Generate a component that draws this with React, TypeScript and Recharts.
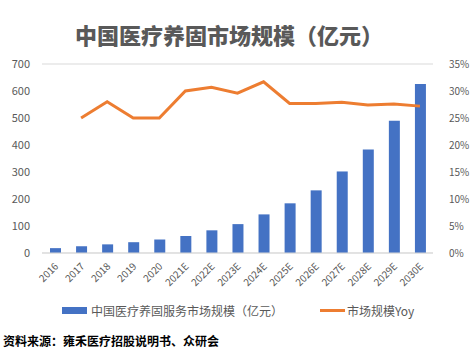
import React from 'react';
import { ComposedChart, Bar, Line, XAxis, YAxis, CartesianGrid } from 'recharts';

const years = ['2016', '2017', '2018', '2019', '2020', '2021E', '2022E', '2023E', '2024E', '2025E', '2026E', '2027E', '2028E', '2029E', '2030E'];
const marketSize = [18, 25, 32, 40, 50, 63, 84, 107, 143, 184, 232, 302, 383, 490, 626];
const yoy = [null, 25, 28, 25, 25, 30, 30.7, 29.6, 31.7, 27.7, 27.7, 27.9, 27.4, 27.6, 27.2];
const leftTicks = [0, 100, 200, 300, 400, 500, 600, 700];
const rightTicks = [0, 5, 10, 15, 20, 25, 30, 35];

const data = years.map((y, i) => ({ year: y, size: marketSize[i], yoy: yoy[i] }));

const font = '"Microsoft YaHei", "Noto Sans CJK SC", sans-serif';
const gray = '#595959';

const XTick = (props: any) => {
  const { x, y, payload } = props;
  return (
    <g transform={`translate(${x + 4},${y + 6})`}>
      <text transform="rotate(-45)" textAnchor="end" fontSize={10} fill={gray} fontFamily={font}>
        {payload.value}
      </text>
    </g>
  );
};

const App: React.FC = () => {
  return (
    <div style={{ position: 'fixed', left: 0, top: 0, width: 474, height: 353, background: '#fff', fontFamily: font }}>
      <div style={{ position: 'absolute', top: 20, left: 0, width: 458, textAlign: 'center', fontSize: 22, fontWeight: 900, color: gray, lineHeight: '28px' }}>
        中国医疗养固市场规模（亿元）
      </div>
      <div style={{ position: 'absolute', left: 0, top: 0 }}>
        <ComposedChart width={474} height={292} data={data} margin={{ top: 64, right: 0, bottom: 0, left: 0 }}>
          <CartesianGrid vertical={false} stroke="#d9d9d9" />
          <XAxis dataKey="year" interval={0} tick={<XTick />} tickLine={false} axisLine={{ stroke: '#d9d9d9' }} height={39} />
          <YAxis yAxisId="l" width={42} domain={[0, 700]} ticks={leftTicks} tickLine={false} axisLine={false}
            tick={{ fontSize: 11, fill: gray, fontFamily: font }} tickMargin={6} />
          <YAxis yAxisId="r" orientation="right" width={41} domain={[0, 35]} ticks={rightTicks} tickLine={false} axisLine={false}
            tickFormatter={(v: number) => `${v}%`} tick={{ fontSize: 10, fill: gray, fontFamily: font, textAnchor: 'start' }} tickMargin={10} />
          <Bar yAxisId="l" dataKey="size" fill="#4472C4" barSize={11} isAnimationActive={false} />
          <Line yAxisId="r" dataKey="yoy" stroke="#ED7D31" strokeWidth={3} dot={false} isAnimationActive={false} connectNulls={false} />
        </ComposedChart>
      </div>
      <div style={{ position: 'absolute', top: 302, left: 62, display: 'flex', alignItems: 'center', fontSize: 12, color: gray, whiteSpace: 'nowrap' }}>
        <span style={{ display: 'inline-block', width: 25, height: 7, background: '#4472C4', marginRight: 4 }} />
        <span>中国医疗养固服务市场规模（亿元）</span>
        <span style={{ display: 'inline-block', width: 25, height: 3, background: '#ED7D31', marginLeft: 37, marginRight: 2 }} />
        <span>市场规模Yoy</span>
      </div>
      <div style={{ position: 'absolute', top: 332, left: 3, fontSize: 12, fontWeight: 'bold', color: '#000', whiteSpace: 'nowrap' }}>
        资料来源：雍禾医疗招股说明书、众研会
      </div>
    </div>
  );
};

export default App;
